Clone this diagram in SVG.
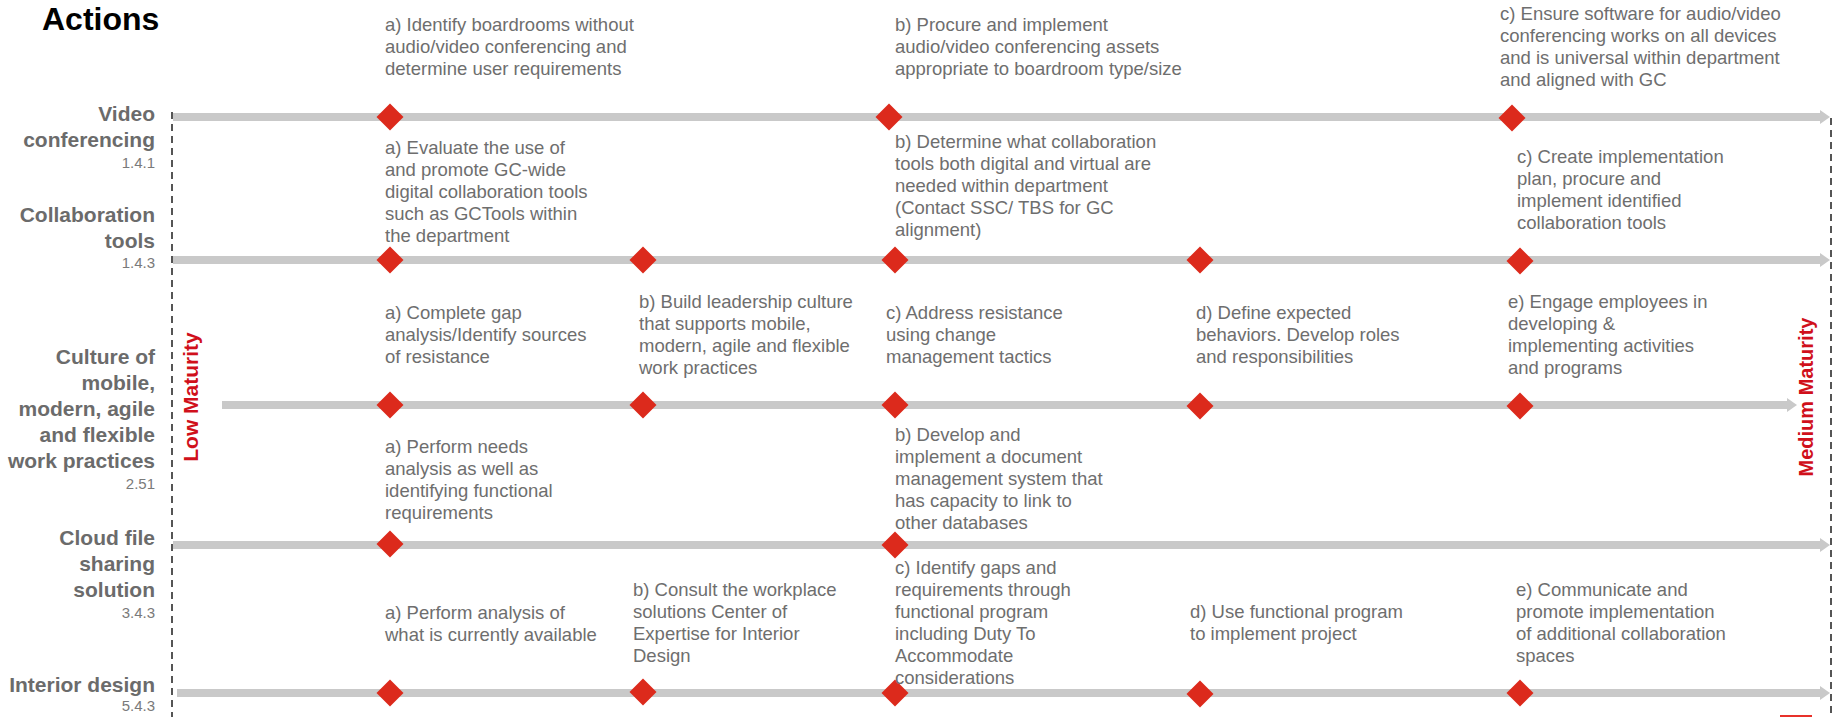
<svg xmlns="http://www.w3.org/2000/svg" width="1835" height="717" viewBox="0 0 1835 717">
<defs>
<style>
.title{font-family:"Liberation Sans",Arial,sans-serif;font-weight:bold;font-size:32px;fill:#000}
.lbl{font-family:"Liberation Sans",Arial,sans-serif;font-weight:bold;font-size:21px;fill:#6b6b6b;text-anchor:end}
.num{font-family:"Liberation Sans",Arial,sans-serif;font-size:15px;fill:#7a7a7a;text-anchor:end}
.t{font-family:"Liberation Sans",Arial,sans-serif;font-size:18.5px;fill:#6e6e6e}
.mat{font-family:"Liberation Sans",Arial,sans-serif;font-weight:bold;font-size:21px;fill:#d0101b;text-anchor:middle}
.ln{stroke:#c9c9c9;stroke-width:8;fill:none}
.dash{stroke:#555;stroke-width:2;stroke-dasharray:7 5;fill:none}
.dm{fill:#dc2a1c}
</style>
<marker id="arr" markerUnits="userSpaceOnUse" markerWidth="10" markerHeight="14" viewBox="0 0 10 14" refX="2" refY="7" orient="auto">
<path d="M0,0 L10,7 L0,14 z" fill="#c9c9c9"/>
</marker>
<path id="dia" d="M0,-13.5 L13.5,0 L0,13.5 L-13.5,0 z"/>
</defs>
<rect width="1835" height="717" fill="#fff"/>
<text class="title" x="42" y="30">Actions</text>

<g id="boundaries">
<line class="dash" x1="172" y1="112" x2="172" y2="717"/>
<line class="dash" x1="1831" y1="118" x2="1831" y2="714"/>
<text class="mat" transform="translate(198,397) rotate(-90)">Low Maturity</text>
<text class="mat" style="font-size:20px" transform="translate(1813,397) rotate(-90)">Medium Maturity</text>
<rect x="1780" y="715" width="32" height="2" fill="#e8312a"/>
</g>

<g id="connectors">
<line class="ln" x1="173" y1="117" x2="1822" y2="117" marker-end="url(#arr)"/>
<line class="ln" x1="173" y1="260" x2="1822" y2="260" marker-end="url(#arr)"/>
<line class="ln" x1="222" y1="405" x2="1789" y2="405" marker-end="url(#arr)"/>
<line class="ln" x1="173" y1="545" x2="1822" y2="545" marker-end="url(#arr)"/>
<line class="ln" x1="177" y1="693" x2="1822" y2="693" marker-end="url(#arr)"/>
</g>

<g id="row-video">
<text class="lbl"><tspan x="155" y="121">Video</tspan><tspan x="155" y="147">conferencing</tspan></text>
<text class="num" x="155" y="168">1.4.1</text>
</g>
<g id="row-collab">
<text class="lbl"><tspan x="155" y="222">Collaboration</tspan><tspan x="155" y="248">tools</tspan></text>
<text class="num" x="155" y="268">1.4.3</text>
</g>
<g id="row-culture">
<text class="lbl"><tspan x="155" y="364">Culture of</tspan><tspan x="155" y="390">mobile,</tspan><tspan x="155" y="416">modern, agile</tspan><tspan x="155" y="442">and flexible</tspan><tspan x="155" y="468">work practices</tspan></text>
<text class="num" x="155" y="489">2.51</text>
</g>
<g id="row-cloud">
<text class="lbl"><tspan x="155" y="545">Cloud file</tspan><tspan x="155" y="571">sharing</tspan><tspan x="155" y="597">solution</tspan></text>
<text class="num" x="155" y="618">3.4.3</text>
</g>
<g id="row-interior">
<text class="lbl" x="155" y="692">Interior design</text>
<text class="num" x="155" y="711">5.4.3</text>
</g>

<!-- Video conferencing -->
<g id="vc-a">
<use href="#dia" class="dm" x="390" y="117"/>
<text class="t"><tspan x="385" y="31">a) Identify boardrooms without</tspan><tspan x="385" y="53">audio/video conferencing and</tspan><tspan x="385" y="75">determine user requirements</tspan></text>
</g>
<g id="vc-b">
<use href="#dia" class="dm" x="889" y="117"/>
<text class="t"><tspan x="895" y="31">b) Procure and implement</tspan><tspan x="895" y="53">audio/video conferencing assets</tspan><tspan x="895" y="75">appropriate to boardroom type/size</tspan></text>
</g>
<g id="vc-c">
<use href="#dia" class="dm" x="1512" y="118"/>
<text class="t"><tspan x="1500" y="20">c) Ensure software for audio/video</tspan><tspan x="1500" y="42">conferencing works on all devices</tspan><tspan x="1500" y="64">and is universal within department</tspan><tspan x="1500" y="86">and aligned with GC</tspan></text>
</g>

<!-- Collaboration tools -->
<g id="ct-a">
<use href="#dia" class="dm" x="390" y="260"/>
<text class="t"><tspan x="385" y="154">a) Evaluate the use of</tspan><tspan x="385" y="176">and promote GC-wide</tspan><tspan x="385" y="198">digital collaboration tools</tspan><tspan x="385" y="220">such as GCTools within</tspan><tspan x="385" y="242">the department</tspan></text>
</g>
<g id="ct-m2"><use href="#dia" class="dm" x="643" y="260"/></g>
<g id="ct-b">
<use href="#dia" class="dm" x="895" y="260"/>
<text class="t"><tspan x="895" y="148">b) Determine what collaboration</tspan><tspan x="895" y="170">tools both digital and virtual are</tspan><tspan x="895" y="192">needed within department</tspan><tspan x="895" y="214">(Contact SSC/ TBS for GC</tspan><tspan x="895" y="236">alignment)</tspan></text>
</g>
<g id="ct-m4"><use href="#dia" class="dm" x="1200" y="260"/></g>
<g id="ct-c">
<use href="#dia" class="dm" x="1520" y="261"/>
<text class="t"><tspan x="1517" y="163">c) Create implementation</tspan><tspan x="1517" y="185">plan, procure and</tspan><tspan x="1517" y="207">implement identified</tspan><tspan x="1517" y="229">collaboration tools</tspan></text>
</g>

<!-- Culture -->
<g id="cu-a">
<use href="#dia" class="dm" x="390" y="405"/>
<text class="t"><tspan x="385" y="319">a) Complete gap</tspan><tspan x="385" y="341">analysis/Identify sources</tspan><tspan x="385" y="363">of resistance</tspan></text>
</g>
<g id="cu-b">
<use href="#dia" class="dm" x="643" y="405"/>
<text class="t"><tspan x="639" y="308">b) Build leadership culture</tspan><tspan x="639" y="330">that supports mobile,</tspan><tspan x="639" y="352">modern, agile and flexible</tspan><tspan x="639" y="374">work practices</tspan></text>
</g>
<g id="cu-c">
<use href="#dia" class="dm" x="895" y="405"/>
<text class="t"><tspan x="886" y="319">c) Address resistance</tspan><tspan x="886" y="341">using change</tspan><tspan x="886" y="363">management tactics</tspan></text>
</g>
<g id="cu-d">
<use href="#dia" class="dm" x="1200" y="406"/>
<text class="t"><tspan x="1196" y="319">d) Define expected</tspan><tspan x="1196" y="341">behaviors. Develop roles</tspan><tspan x="1196" y="363">and responsibilities</tspan></text>
</g>
<g id="cu-e">
<use href="#dia" class="dm" x="1520" y="406"/>
<text class="t"><tspan x="1508" y="308">e) Engage employees in</tspan><tspan x="1508" y="330">developing &amp;</tspan><tspan x="1508" y="352">implementing activities</tspan><tspan x="1508" y="374">and programs</tspan></text>
</g>

<!-- Cloud -->
<g id="cf-a">
<use href="#dia" class="dm" x="390" y="544"/>
<text class="t"><tspan x="385" y="453">a) Perform needs</tspan><tspan x="385" y="475">analysis as well as</tspan><tspan x="385" y="497">identifying functional</tspan><tspan x="385" y="519">requirements</tspan></text>
</g>
<g id="cf-b">
<use href="#dia" class="dm" x="895" y="545"/>
<text class="t"><tspan x="895" y="441">b) Develop and</tspan><tspan x="895" y="463">implement a document</tspan><tspan x="895" y="485">management system that</tspan><tspan x="895" y="507">has capacity to link to</tspan><tspan x="895" y="529">other databases</tspan></text>
</g>

<!-- Interior -->
<g id="id-a">
<use href="#dia" class="dm" x="390" y="693"/>
<text class="t"><tspan x="385" y="619">a) Perform analysis of</tspan><tspan x="385" y="641">what is currently available</tspan></text>
</g>
<g id="id-b">
<use href="#dia" class="dm" x="643" y="692"/>
<text class="t"><tspan x="633" y="596">b) Consult the workplace</tspan><tspan x="633" y="618">solutions Center of</tspan><tspan x="633" y="640">Expertise for Interior</tspan><tspan x="633" y="662">Design</tspan></text>
</g>
<g id="id-c">
<use href="#dia" class="dm" x="895" y="693"/>
<text class="t"><tspan x="895" y="574">c) Identify gaps and</tspan><tspan x="895" y="596">requirements through</tspan><tspan x="895" y="618">functional program</tspan><tspan x="895" y="640">including Duty To</tspan><tspan x="895" y="662">Accommodate</tspan><tspan x="895" y="684">considerations</tspan></text>
</g>
<g id="id-d">
<use href="#dia" class="dm" x="1200" y="694"/>
<text class="t"><tspan x="1190" y="618">d) Use functional program</tspan><tspan x="1190" y="640">to implement project</tspan></text>
</g>
<g id="id-e">
<use href="#dia" class="dm" x="1520" y="693"/>
<text class="t"><tspan x="1516" y="596">e) Communicate and</tspan><tspan x="1516" y="618">promote implementation</tspan><tspan x="1516" y="640">of additional collaboration</tspan><tspan x="1516" y="662">spaces</tspan></text>
</g>
</svg>
